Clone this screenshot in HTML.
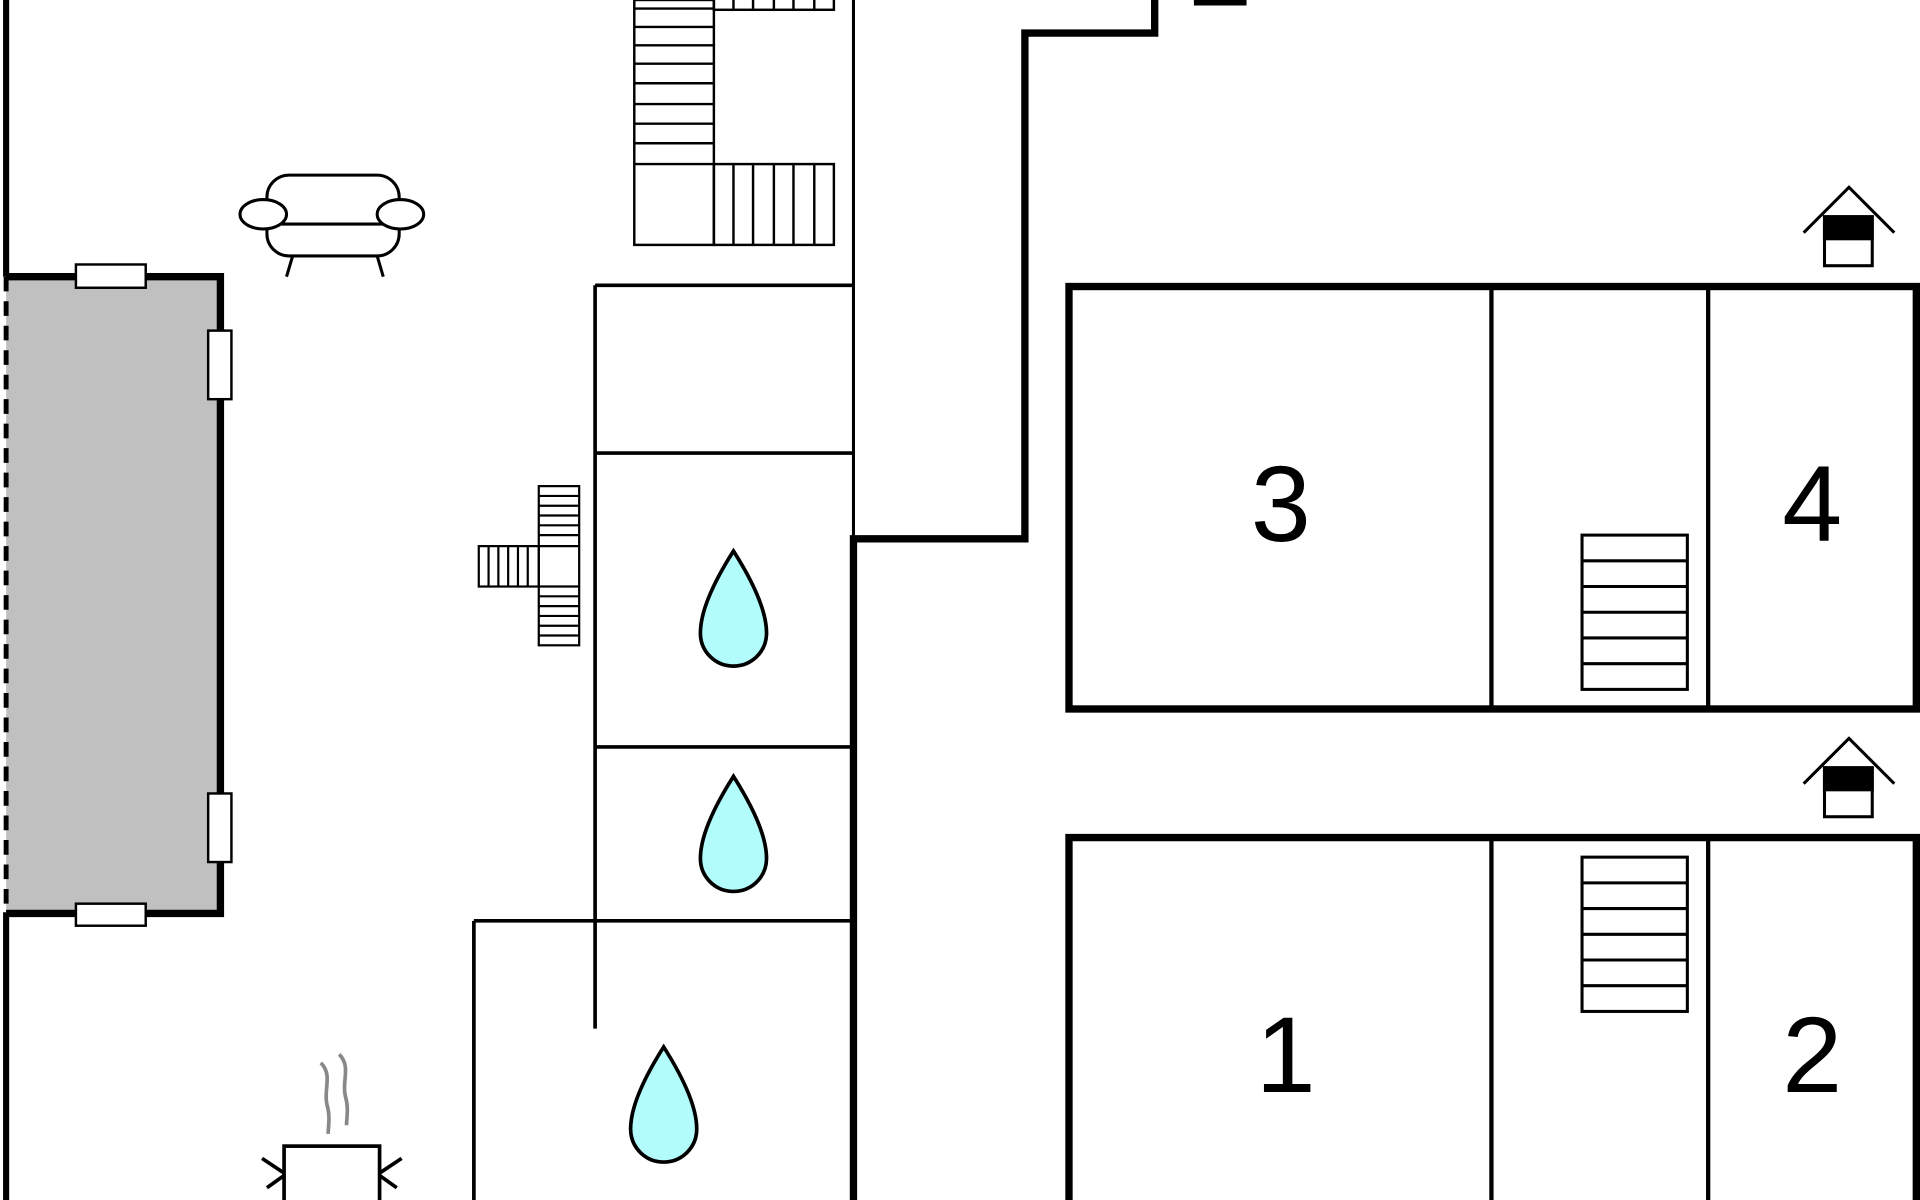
<!DOCTYPE html>
<html><head><meta charset="utf-8"><style>html,body{margin:0;padding:0;background:#fff;overflow:hidden}svg{display:block}</style></head>
<body>
<svg width="1920" height="1200" viewBox="0 0 1568 980" xmlns="http://www.w3.org/2000/svg" fill="none" stroke="#000">
<rect width="1568" height="980" fill="#fff" stroke="none"/>
<!-- left wall -->
<line x1="5" y1="0" x2="5" y2="226" stroke-width="5"/>
<line x1="5" y1="745" x2="5" y2="980" stroke-width="5"/>
<!-- gray room -->
<rect x="5" y="226" width="175" height="520" fill="#c0c0c0" stroke="none"/>
<polyline points="5,226 180,226 180,746 5,746" stroke-width="6"/>
<line x1="5" y1="226" x2="5" y2="746" stroke-width="4" stroke-dasharray="12,8"/>
<rect x="62" y="216" width="57" height="19" fill="#fff" stroke-width="2"/>
<rect x="62" y="738" width="57" height="18" fill="#fff" stroke-width="2"/>
<rect x="170" y="270" width="19" height="56" fill="#fff" stroke-width="2"/>
<rect x="170" y="648" width="19" height="56" fill="#fff" stroke-width="2"/>
<!-- sofa -->
<g stroke-width="2.5" fill="#fff">
<rect x="218" y="143" width="108" height="66" rx="18"/>
<line x1="230" y1="183" x2="315" y2="183"/>
<ellipse cx="215" cy="175" rx="19" ry="12"/>
<ellipse cx="327" cy="175" rx="19" ry="12"/>
<line x1="239" y1="209" x2="234" y2="226"/><line x1="308" y1="209" x2="313" y2="226"/>
</g>
<!-- top stairs -->
<g stroke-width="2">
<rect x="518" y="0" width="65" height="200"/>
<line x1="518" y1="134" x2="583" y2="134"/>
<g id="r"><line x1="518" y1="7" x2="583" y2="7"/><line x1="518" y1="22" x2="583" y2="22"/><line x1="518" y1="37" x2="583" y2="37"/><line x1="518" y1="52" x2="583" y2="52"/><line x1="518" y1="68" x2="583" y2="68"/><line x1="518" y1="85" x2="583" y2="85"/><line x1="518" y1="101" x2="583" y2="101"/><line x1="518" y1="117" x2="583" y2="117"/></g>
<rect x="583" y="134" width="98" height="66"/>
<rect x="583" y="-2" width="98" height="10"/>
<line x1="599" y1="134" x2="599" y2="200"/><line x1="615" y1="134" x2="615" y2="200"/><line x1="632" y1="134" x2="632" y2="200"/><line x1="648" y1="134" x2="648" y2="200"/><line x1="665" y1="134" x2="665" y2="200"/>
<line x1="599" y1="0" x2="599" y2="8"/><line x1="615" y1="0" x2="615" y2="8"/><line x1="632" y1="0" x2="632" y2="8"/><line x1="648" y1="0" x2="648" y2="8"/><line x1="665" y1="0" x2="665" y2="8"/>
</g>
<!-- central walls -->
<line x1="697" y1="0" x2="697" y2="440" stroke-width="2.5"/>
<polyline points="943,0 943,27 837,27 837,440 697,440 697,980" stroke-width="6"/>
<line x1="975" y1="2" x2="1018" y2="2" stroke-width="5"/>
<g stroke-width="3">
<line x1="486" y1="233" x2="697" y2="233"/>
<line x1="486" y1="233" x2="486" y2="840"/>
<line x1="486" y1="370" x2="697" y2="370"/>
<line x1="486" y1="610" x2="697" y2="610"/>
<line x1="387" y1="752" x2="697" y2="752"/>
<line x1="387" y1="752" x2="387" y2="980"/>
</g>
<!-- small stairs -->
<g stroke-width="1.8">
<rect x="440" y="397" width="33" height="130"/>
<rect x="391" y="446" width="49" height="33"/>
<line x1="440" y1="446" x2="473" y2="446"/><line x1="440" y1="479" x2="473" y2="479"/>
<line x1="440" y1="405" x2="473" y2="405"/><line x1="440" y1="413" x2="473" y2="413"/><line x1="440" y1="421" x2="473" y2="421"/><line x1="440" y1="429" x2="473" y2="429"/><line x1="440" y1="437" x2="473" y2="437"/>
<line x1="440" y1="487" x2="473" y2="487"/><line x1="440" y1="495" x2="473" y2="495"/><line x1="440" y1="503" x2="473" y2="503"/><line x1="440" y1="511" x2="473" y2="511"/><line x1="440" y1="519" x2="473" y2="519"/>
<line x1="399" y1="446" x2="399" y2="479"/><line x1="407" y1="446" x2="407" y2="479"/><line x1="415" y1="446" x2="415" y2="479"/><line x1="423" y1="446" x2="423" y2="479"/><line x1="431" y1="446" x2="431" y2="479"/>
</g>
<!-- drops -->
<g fill="#b3fcfc" stroke-width="3">
<path d="M599,450 C585,472 572,497 572,517 C572,532 584,544 599,544 C614,544 626,532 626,517 C626,497 613,472 599,450Z"/>
<path d="M599,634 C585,656 572,681 572,701 C572,716 584,728 599,728 C614,728 626,716 626,701 C626,681 613,656 599,634Z"/>
<path d="M542,855 C528,877 515,902 515,922 C515,937 527,949 542,949 C557,949 569,937 569,922 C569,902 556,877 542,855Z"/>
</g>
<!-- room blocks -->
<g stroke-width="6"><rect x="873" y="234" width="692" height="345"/>
<polyline points="873,980 873,684 1565,684 1565,980"/></g>
<g stroke-width="3.5">
<line x1="1218" y1="234" x2="1218" y2="579"/><line x1="1395" y1="234" x2="1395" y2="579"/>
<line x1="1218" y1="684" x2="1218" y2="980"/><line x1="1395" y1="684" x2="1395" y2="980"/>
</g>
<g stroke-width="2.5">
<rect x="1292" y="437" width="86" height="126"/>
<line x1="1292" y1="458" x2="1378" y2="458"/><line x1="1292" y1="479" x2="1378" y2="479"/><line x1="1292" y1="500" x2="1378" y2="500"/><line x1="1292" y1="521" x2="1378" y2="521"/><line x1="1292" y1="542" x2="1378" y2="542"/>
<rect x="1292" y="700" width="86" height="126"/>
<line x1="1292" y1="721" x2="1378" y2="721"/><line x1="1292" y1="742" x2="1378" y2="742"/><line x1="1292" y1="763" x2="1378" y2="763"/><line x1="1292" y1="784" x2="1378" y2="784"/><line x1="1292" y1="805" x2="1378" y2="805"/>
</g>
<!-- house icons -->
<g stroke-width="2.5">
<polyline points="1473,190 1510,153 1547,190"/>
<rect x="1490" y="177" width="39" height="40" fill="#fff"/><rect x="1490" y="177" width="39" height="18" fill="#000"/>
<polyline points="1473,640 1510,603 1547,640"/>
<rect x="1490" y="627" width="39" height="40" fill="#fff"/><rect x="1490" y="627" width="39" height="18" fill="#000"/>
</g>
<g fill="#000" stroke="none" font-family="Liberation Sans, sans-serif" font-size="88" text-anchor="middle">
<text x="1046" y="442">3</text><text x="1480" y="442">4</text>
<text x="1050" y="892">1</text><text x="1480" y="892">2</text>
</g>
<!-- stove -->
<g stroke-width="3">
<rect x="232" y="936" width="78" height="50" fill="#fff"/>
<line x1="232" y1="958" x2="214" y2="946"/><line x1="232" y1="960" x2="218" y2="970"/>
<line x1="310" y1="958" x2="328" y2="946"/><line x1="310" y1="960" x2="324" y2="970"/>
</g>
<g stroke="#888" stroke-width="3"><path d="M262,868 C272,878 264,890 267,902 C270,912 268,920 268,926"/><path d="M277,861 C287,871 279,883 282,895 C285,905 283,913 283,919"/></g>
</svg>
</body></html>
